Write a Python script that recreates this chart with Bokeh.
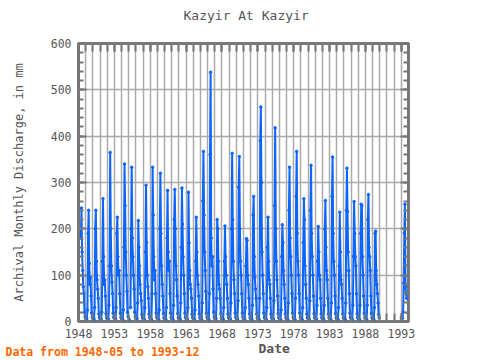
import math
from bokeh.plotting import figure
from bokeh.models import (FixedTicker, Range1d, LinearAxis, ColumnDataSource,
                          Title, CustomLabelingPolicy)
from bokeh.embed import file_html
from bokeh.resources import INLINE

nan = float("nan")

# monthly discharge (mm), Jan..Dec
y1948 = [nan, nan, nan, nan, 180, 245, 150, 110, 75, 60, 20, 10]
y1949 = [7, 6, 6, 25, 190, 240, 125, 80, 95, 55, 18, 9]
y1950 = [7, 6, 5, 30, 200, 240, 130, 90, 70, 50, 16, 8]
y1951 = [6, 5, 5, 20, 130, 265, 140, 80, 90, 55, 17, 8]
y1952 = [6, 5, 5, 35, 120, 365, 200, 120, 85, 60, 18, 9]
y1953 = [7, 6, 6, 30, 190, 225, 140, 100, 110, 60, 18, 9]
y1954 = [6, 5, 5, 25, 160, 340, 250, 150, 100, 65, 20, 10]
y1955 = [nan, 4, nan, 30, 200, 333, 180, 140, 100, 70, 20, 10]
y1956 = [7, 6, 6, 40, 218, 160, 120, 80, 60, 45, 15, 8]
y1957 = [6, 5, 5, 30, 150, 294, 170, 100, 75, 50, 16, 8]
y1958 = [6, 5, 5, 60, 333, 230, 140, 90, 110, 60, 18, 9]
y1959 = [6, 5, 5, 25, 200, 320, 190, 120, 80, 55, 17, 8]
y1960 = [6, 5, 5, 30, 180, 283, 150, 110, 130, 60, 18, 9]
y1961 = [6, 5, 5, 35, 220, 285, 200, 120, 90, 55, 17, 8]
y1962 = [6, 5, 5, 40, 160, 288, 210, 140, 100, 60, 18, 9]
y1963 = [6, 5, 5, 30, 279, 170, 110, 80, 70, 50, 16, 8]
y1964 = [6, 5, 5, 25, 130, 225, 150, 100, 80, 55, 16, 8]
y1965 = [6, 5, 5, 40, 260, 367, 230, 150, 110, 65, 18, 9]
y1966 = [6, 5, 5, 60, 360, 538, 180, 120, 140, 70, 20, 10]
y1967 = [7, 6, 6, 50, 220, 200, 130, 80, 70, 50, 16, 8]
y1968 = [6, 5, 5, 30, 130, 206, 140, 100, 80, 50, 16, 8]
y1969 = [6, 5, 5, 40, 200, 363, 220, 130, 90, 60, 18, 9]
y1970 = [6, 5, 5, 45, 290, 356, 200, 130, 100, 60, 18, 9]
y1971 = [6, 5, 5, 30, 120, 179, 175, 100, 80, 50, 16, 8]
y1972 = [6, 5, 5, 35, 230, 270, 140, 95, 70, 50, 16, 8]
y1973 = [6, 5, 5, 50, 390, 463, 300, 150, 100, 60, 18, 9]
y1974 = [6, 5, 5, 30, 160, 225, 130, 90, 80, 50, 16, 8]
y1975 = [6, 5, 5, 45, 250, 418, 200, 130, 90, 55, 17, 8]
y1976 = [6, 5, 5, 25, 140, 209, 170, 110, 80, 50, 16, 8]
y1977 = [6, 5, 5, 40, 240, 333, 180, 140, 100, 60, 18, 9]
y1978 = [6, 5, 5, 50, 270, 367, 190, 130, 100, 60, 18, 9]
y1979 = [6, 5, 5, 30, 170, 265, 220, 120, 80, 50, 16, 8]
y1980 = [6, 5, 5, 45, 240, 337, 190, 140, 100, 55, 17, 8]
y1981 = [6, 5, 5, 35, 130, 205, 150, 100, 90, 50, 16, 8]
y1982 = [6, 5, 5, 35, 200, 261, 160, 110, 90, 50, 16, 8]
y1983 = [6, 5, 5, 40, 270, 355, 190, 130, 100, 55, 17, 8]
y1984 = [6, 5, 5, 30, 120, 236, 150, 90, 80, 50, 16, 8]
y1985 = [6, 5, 5, 40, 240, 331, 237, 150, 110, 60, 18, 9]
y1986 = [6, 5, 5, 35, 140, 259, 190, 140, 120, 60, 17, 8]
y1987 = [6, 5, 5, 35, 190, 253, 250, 140, 100, 55, 17, 8]
y1988 = [6, 5, 5, 35, 220, 274, 160, 140, 110, 55, 17, 8]
y1989 = [6, 5, 5, 30, 190, 195, 110, 80, 60, 40, 15, 8]
y1993 = [8, 7, 7, 20, 82, 191, 253, 75, 60, 50, nan, 18]

years = [1948, 1949, 1950, 1951, 1952, 1953, 1954, 1955, 1956, 1957, 1958,
         1959, 1960, 1961, 1962, 1963, 1964, 1965, 1966, 1967, 1968, 1969,
         1970, 1971, 1972, 1973, 1974, 1975, 1976, 1977, 1978, 1979, 1980,
         1981, 1982, 1983, 1984, 1985, 1986, 1987, 1988, 1989, 1993]
yearly = [y1948, y1949, y1950, y1951, y1952, y1953, y1954, y1955, y1956,
          y1957, y1958, y1959, y1960, y1961, y1962, y1963, y1964, y1965,
          y1966, y1967, y1968, y1969, y1970, y1971, y1972, y1973, y1974,
          y1975, y1976, y1977, y1978, y1979, y1980, y1981, y1982, y1983,
          y1984, y1985, y1986, y1987, y1988, y1989, y1993]

x_ticks = [1948, 1953, 1958, 1963, 1968, 1973, 1978, 1983, 1988, 1993]
y_ticks = [0, 100, 200, 300, 400, 500, 600]

xs, qs = [], []
prev = None
for yr, vals in zip(years, yearly):
    if prev is not None and yr - prev > 1:
        xs.append(prev + 1.0)
        qs.append(nan)
    for m, v in enumerate(vals):
        xs.append(yr + m / 12.0)
        qs.append(v)
    prev = yr

src = ColumnDataSource(dict(x=xs, q=qs))

FONT = "DejaVu Sans Mono"
GREY = "#555555"
BLUE = "#0a64ff"

p = figure(frame_width=330, frame_height=278,
           min_border_left=78, min_border_right=72,
           min_border_top=43, min_border_bottom=39,
           x_range=Range1d(1948, 1994), y_range=Range1d(0, 600),
           output_backend="svg", toolbar_location=None,
           title="Kazyir At Kazyir")

p.title.align = "left"
p.title.offset = 105
p.title.vertical_align = "top"
p.title.text_font = FONT
p.title.text_font_size = "13px"
p.title.text_font_style = "normal"
p.title.text_color = GREY
p.title.standoff = 14

p.outline_line_color = "#777777"
p.outline_line_width = 3
p.background_fill_color = "white"
p.border_fill_color = "white"

p.xgrid.ticker = FixedTicker(ticks=list(range(1948, 1995)))
p.ygrid.ticker = FixedTicker(ticks=y_ticks)
for g in (p.xgrid, p.ygrid):
    g.grid_line_color = "#aaaaaa"
    g.grid_line_width = 1.5

no_labels = CustomLabelingPolicy(code="return []")

def style_axis(ax, labels=True):
    ax.axis_line_color = None
    ax.major_tick_in = 8
    ax.major_tick_out = 0
    ax.minor_tick_in = 5
    ax.minor_tick_out = 0
    ax.major_tick_line_color = "#777777"
    ax.minor_tick_line_color = "#777777"
    ax.major_tick_line_width = 2
    ax.minor_tick_line_width = 2
    ax.major_label_text_font = FONT
    ax.major_label_text_font_size = "11.5px"
    ax.major_label_text_color = GREY
    if not labels:
        ax.major_label_policy = no_labels
        ax.major_label_standoff = 0

xb = p.xaxis[0]
xb.ticker = FixedTicker(ticks=x_ticks, minor_ticks=list(range(1948, 1995)))
style_axis(xb)
xb.major_tick_in = 8
xb.minor_tick_in = 8
xb.major_label_standoff = 7

yl = p.yaxis[0]
yl.ticker = FixedTicker(ticks=y_ticks, minor_ticks=list(range(0, 601, 20)))
style_axis(yl)
yl.major_label_standoff = 7
yl.axis_label = "Archival Monthly Discharge, in mm"
yl.axis_label_text_font = FONT
yl.axis_label_text_font_size = "12px"
yl.axis_label_text_font_style = "normal"
yl.axis_label_text_color = GREY
yl.axis_label_standoff = 22

xt = LinearAxis(ticker=FixedTicker(ticks=x_ticks, minor_ticks=list(range(1948, 1995))))
style_axis(xt, labels=False)
xt.major_tick_in = 8
xt.minor_tick_in = 8
p.add_layout(xt, "above")

yr_ax = LinearAxis(ticker=FixedTicker(ticks=y_ticks, minor_ticks=list(range(0, 601, 20))))
style_axis(yr_ax, labels=False)
p.add_layout(yr_ax, "right")

p.line("x", "q", source=src, line_color=BLUE, line_width=2)
p.scatter("x", "q", source=src, size=2.5, color=BLUE)

date_title = Title(text="Date", align="left", offset=180, vertical_align="top",
                   text_font=FONT, text_font_size="13px", text_font_style="bold",
                   text_color=GREY, standoff=0)
p.add_layout(date_title, "below")

note = Title(text="Data from 1948-05 to 1993-12", align="left", offset=-73,
             vertical_align="top",
             text_font=FONT, text_font_size="11.5px", text_font_style="bold",
             text_color="#ff6600", standoff=-25)
p.add_layout(note, "below")

open("out.html", "w").write(file_html(p, INLINE))
